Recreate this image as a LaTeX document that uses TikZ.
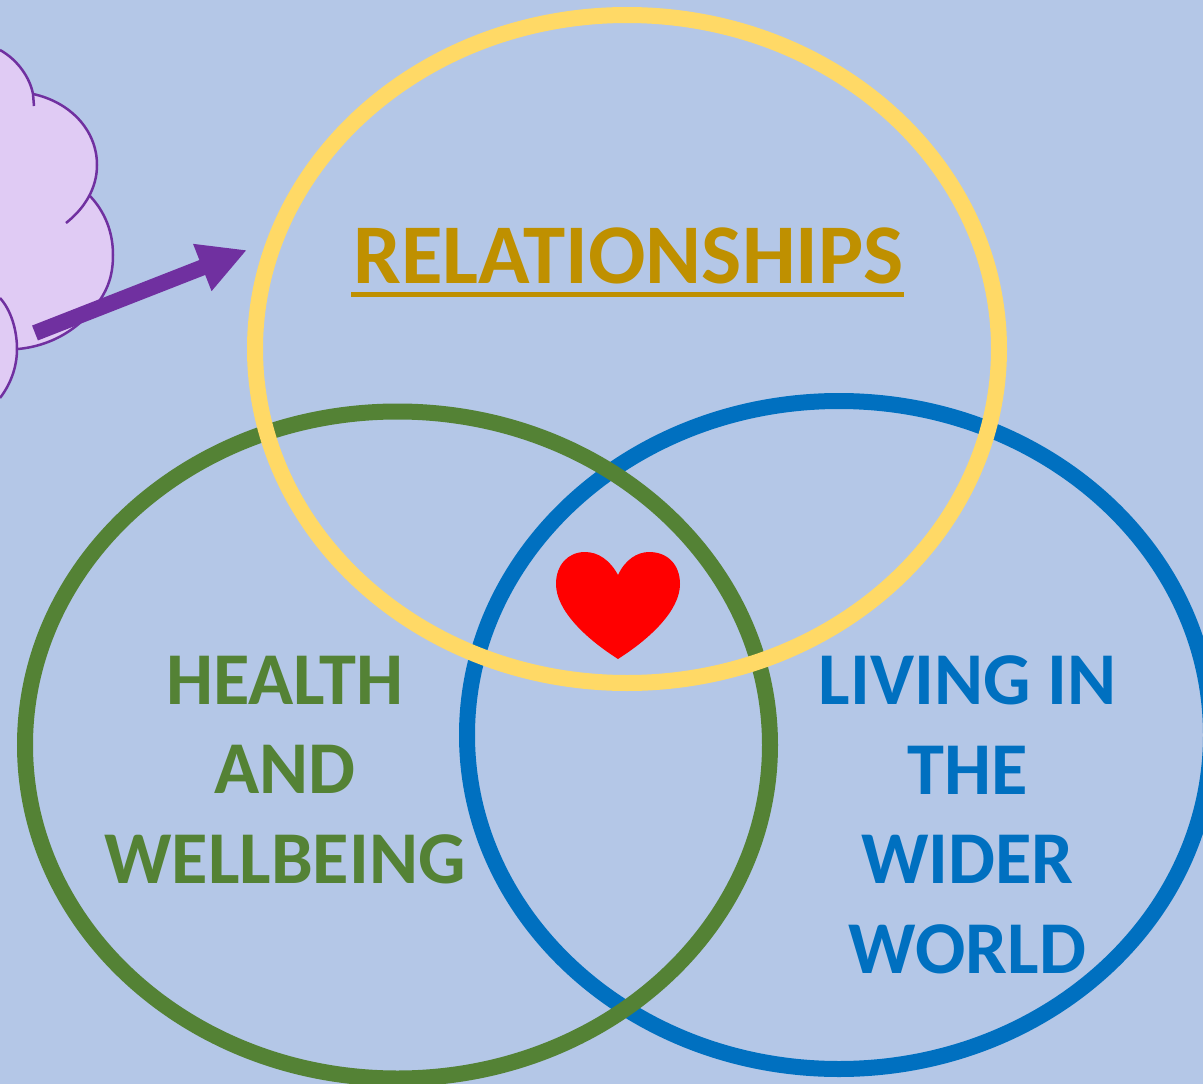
\documentclass[tikz,border=0pt]{standalone}
\usepackage{fontspec}
\setmainfont{Carlito}
\usetikzlibrary{arrows.meta}
\definecolor{bgblue}{HTML}{B4C7E7}
\definecolor{ringyellow}{HTML}{FFD966}
\definecolor{ringgreen}{HTML}{548235}
\definecolor{ringblue}{HTML}{0070C0}
\definecolor{textgold}{HTML}{BF9000}
\definecolor{cloudpurple}{HTML}{7030A0}
\definecolor{cloudfill}{HTML}{E0CBF4}
\tikzset{
  ring/.style={line width=16pt},
  titletext/.style={font=\bfseries\fontsize{85}{89.5}\selectfont,align=center,inner sep=0pt},
  bigtext/.style={font=\bfseries\fontsize{74.5}{89.5}\selectfont,align=center,inner sep=0pt},
  cloudline/.style={draw=cloudpurple,line width=2.5pt},
}
\begin{document}
\begin{tikzpicture}[x=1pt,y=-1pt]
\useasboundingbox (0,0) rectangle (1203,1084);
\clip (0,0) rectangle (1203,1084);
\fill[bgblue] (0,0) rectangle (1203,1084);
% cloud
\fill[cloudfill] (0,50) .. controls (18,60) and (30,78) .. (33,94)
  .. controls (70,102) and (97,130) .. (97,165)
  .. controls (97,175) and (94,187) .. (90,196)
  .. controls (105,212) and (113,232) .. (113,255)
  .. controls (113,275) and (108,288) .. (100,300)
  .. controls (80,330) and (50,346) .. (18,349)
  .. controls (17,370) and (10,385) .. (0,398) -- cycle;
\draw[cloudline] (0,50) .. controls (18,60) and (30,78) .. (33,94) -- (34,106);
\draw[cloudline] (33,94) .. controls (70,102) and (97,130) .. (97,165)
  .. controls (97,188) and (85,208) .. (66,223);
\draw[cloudline] (90,196) .. controls (105,212) and (113,232) .. (113,255)
  .. controls (113,275) and (108,288) .. (100,300)
  .. controls (80,330) and (50,346) .. (18,349);
\draw[cloudline] (0,298) .. controls (11,310) and (17,330) .. (17,349)
  .. controls (17,368) and (10,385) .. (0,398);
% arrow
\coordinate (arrowstart) at (35,333);
\coordinate (arrowend) at (247,250);
\draw[cloudpurple,line width=16pt,-{Triangle[length=48pt,width=47pt]}] (arrowstart) -- (arrowend);
% rings
\draw[ringblue,ring] (839,735) ellipse [x radius=372,y radius=334];
\draw[ringgreen,ring] (397.5,745) ellipse [x radius=372.5,y radius=333.5];
\draw[ringyellow,ring] (627,349) ellipse [x radius=372,y radius=334];
% heart
\fill[red] (618,575) .. controls (610,560) and (598,552) .. (585,552)
  .. controls (568,552) and (556,565) .. (556,584)
  .. controls (556,610) and (585,638) .. (618,659)
  .. controls (651,638) and (680,610) .. (680,584)
  .. controls (680,565) and (668,552) .. (649,552)
  .. controls (637,552) and (625,560) .. (618,575) -- cycle;
% labels
\node[titletext,text=textgold] (rel) at (628.5,256) {RELATIONSHIPS};
\coordinate (ulstart) at (351,294);
\coordinate (ulend) at (904,294);
\draw[textgold,line width=5pt] (ulstart) -- (ulend);
\node[bigtext,text=ringgreen] (health) at (285,770) {HEALTH\\AND\\WELLBEING};
\node[bigtext,text=ringblue] (living) at (967.5,815) {LIVING IN\\THE\\WIDER\\WORLD};
\end{tikzpicture}
\end{document}
